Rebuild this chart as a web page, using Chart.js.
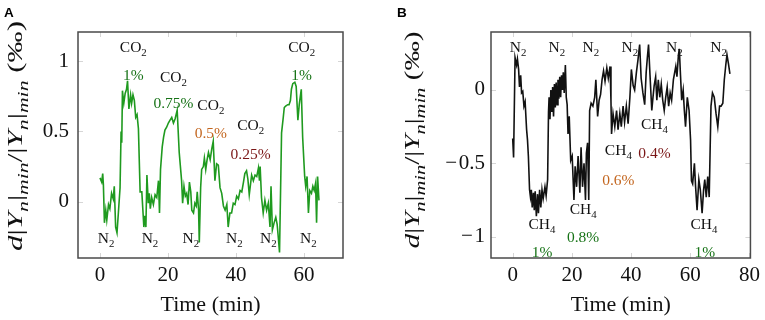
<!DOCTYPE html>
<html>
<head>
<meta charset="utf-8">
<script src="https://cdn.jsdelivr.net/npm/chart.js@4.4.1/dist/chart.umd.min.js"></script>
<style>
  html, body { margin: 0; padding: 0; background: #fff; }
  #wrap { position: relative; width: 765px; height: 320px; }
  .panel { position: absolute; top: 0; width: 382px; height: 320px; }
</style>
</head>
<body>
<div id="wrap">
  <div class="panel" style="left:0"><canvas id="chartA" width="382" height="320"></canvas></div>
  <div class="panel" style="left:383px"><canvas id="chartB" width="382" height="320"></canvas></div>
</div>
<script>
// ---- panel A : CO2 pulses (green trace) ----
const timeA = [
  0, 0.5, 0.8, 1.0, 1.3, 1.7, 2.0, 2.5, 2.9, 3.4,
  3.9, 4.2, 4.6, 5.0, 5.4, 5.9, 6.2, 6.4, 6.6, 7.0,
  7.4, 7.8, 8.1, 8.5, 9.0, 9.3, 9.7, 10.1, 10.5, 10.9,
  11.3, 11.8, 12.3, 12.9, 13.2, 13.5, 13.8, 14.2, 14.5, 14.8,
  15.2, 15.7, 16.2, 16.7, 17.2, 17.5, 17.8, 18.3, 18.7, 19.1,
  19.6, 20.1, 20.6, 21.1, 21.6, 22.1, 22.7, 23.3, 24.0, 24.3,
  24.7, 25.1, 25.5, 25.9, 26.3, 26.7, 27.0, 27.5, 27.9, 28.3,
  28.6, 29.0, 29.2, 29.6, 29.9, 30.4, 30.7, 31.1, 31.5, 31.9,
  32.4, 32.9, 33.3, 33.8, 34.3, 34.8, 35.3, 35.8, 36.3, 36.8,
  37.3, 37.7, 38.2, 38.7, 39.2, 39.7, 40.2, 40.7, 41.2, 41.7,
  42.2, 42.6, 43.1, 43.5, 43.9, 44.6, 45.1, 45.6, 46.1, 46.6,
  46.9, 47.1, 47.5, 48.0, 48.5, 49.0, 49.5, 50.0, 50.3, 50.7,
  51.2, 51.7, 52.1, 52.5, 52.8, 53.4, 53.9, 54.2, 54.6, 55.2,
  55.6, 56.0, 56.3, 56.7, 57.3, 57.7, 58.2, 58.6, 59.2, 59.6,
  60.2, 60.5, 60.9, 61.3, 61.7, 62.2, 62.6, 63.0, 63.4, 63.7,
  64.0, 64.4
];
const valuesA = [
  0.17, 0.14, 0.20, 0.12, -0.15, -0.06, -0.13, -0.02, -0.05, 0.06,
  0.02, 0.11, -0.18, -0.22, -0.08, 0.10, 0.50, 0.42, 0.79, 0.70,
  0.77, 0.80, 0.86, 0.66, 0.76, 0.70, 0.76, 0.72, 0.60, 0.62,
  0.52, 0.07, 0.07, -0.18, -0.10, -0.18, 0.19, -0.01, 0.06, -0.05,
  0.03, -0.02, 0.05, 0.03, 0.15, -0.08, 0.23, 0.39, 0.46, 0.51,
  0.53, 0.56, 0.58, 0.60, 0.56, 0.59, 0.65, 0.35, 0.15, -0.01,
  0.11, 0.04, 0.06, -0.02, 0.14, 0.07, -0.06, -0.08, -0.01, -0.03,
  0.07, -0.06, -0.29, 0.10, 0.23, 0.25, 0.31, 0.23, 0.30, 0.35,
  0.30, 0.38, 0.43, 0.15, 0.27, 0.26, 0.10, 0.06, -0.03, -0.06,
  -0.02, -0.18, -0.08, -0.08, -0.01, -0.02, 0.04, 0.02, 0.08, 0.07,
  0.14, 0.20, 0.22, 0.16, 0.05, 0.19, 0.15, 0.19, 0.18, 0.24,
  0.15, 0.25, 0.03, -0.08, 0.01, -0.06, -0.01, -0.18, 0.11, -0.20,
  -0.15, -0.11, -0.16, -0.27, -0.36, 0.49, 0.60, 0.67, 0.68, 0.69,
  0.69, 0.72, 0.80, 0.84, 0.85, 0.82, 0.58, 0.69, 0.80, 0.46,
  0.18, 0.11, 0.18, -0.08, 0.08, 0.06, 0.11, 0.08, 0.13, -0.15,
  0.18, 0.01
];
const xTicksA = [0, 20, 40, 60];
const yTicksA = [0, 0.5, 1];

// ---- panel B : CH4 pulses (black trace) ----
const timeB = [
  0.0, 0.3, 0.8, 1.3, 1.6, 2.0, 2.3, 2.7, 3.0, 3.4,
  3.8, 4.2, 4.7, 5.0, 5.3, 5.7, 6.0, 6.3, 6.6, 7.0,
  7.3, 7.6, 8.0, 8.4, 8.7, 9.1, 9.5, 9.9, 10.3, 10.9,
  11.3, 11.8, 12.1, 12.3, 12.6, 12.9, 13.2, 13.5, 13.8, 14.1,
  14.4, 14.7, 15.0, 15.3, 15.6, 15.9, 16.2, 16.5, 16.8, 17.1,
  17.4, 17.8, 18.1, 18.4, 18.7, 19.1, 19.6, 20.1, 20.7, 21.1,
  21.6, 22.1, 22.7, 23.1, 23.6, 24.1, 24.6, 24.9, 25.3, 25.7,
  26.0, 26.5, 27.1, 27.7, 28.1, 28.7, 29.2, 29.7, 30.2, 30.7,
  31.2, 31.8, 32.3, 32.9, 33.2, 33.4, 33.9, 34.5, 35.1, 35.6,
  36.2, 36.7, 37.3, 37.8, 38.4, 39.0, 39.6, 40.1, 40.7, 41.2,
  41.8, 42.3, 42.9, 43.4, 44.0, 44.6, 45.1, 45.5, 45.9, 46.4,
  47.0, 47.4, 47.8, 48.3, 48.7, 49.2, 49.7, 50.2, 50.7, 51.2,
  51.7, 52.2, 52.7, 53.2, 53.7, 54.3, 55.1, 55.5, 56.0, 56.3,
  56.7, 57.1, 57.6, 58.0, 58.4, 59.0, 59.6, 60.1, 60.4, 60.8,
  61.4, 61.8, 62.3, 62.9, 63.4, 64.0, 64.5, 64.9, 65.4, 65.9,
  66.4, 67.0, 67.5, 68.1, 68.7, 69.3, 69.9, 70.4, 71.0, 71.5,
  72.0, 72.4, 72.9, 73.4
];
const valuesB = [
  -0.33, -0.46, 0.22, 0.17, 0.21, 0.14, 0.02, 0.10, -0.02, -0.01,
  -0.11, -0.08, -0.27, -0.34, -0.45, -0.68, -0.73, -0.68, -0.80, -0.70,
  -0.82, -0.69, -0.86, -0.71, -0.84, -0.68, -0.80, -0.68, -0.74, -0.66,
  -0.72, -0.61, -0.15, -0.05, -0.20, 0.00, -0.15, 0.02, -0.18, 0.04,
  -0.12, 0.05, -0.10, 0.07, -0.06, 0.09, -0.05, 0.10, 0.00, 0.12,
  -0.02, 0.17, -0.05, -0.10, -0.30, -0.18, -0.48, -0.45, -0.75, -0.52,
  -0.66, -0.45, -0.70, -0.39, -0.66, -0.50, -0.75, -0.43, -0.36, -0.75,
  -0.14, -0.09, -0.11, -0.05, 0.07, -0.18, -0.07, -0.03, 0.07, 0.13,
  0.06, 0.15, 0.08, 0.16, -0.07, -0.30, -0.16, -0.25, -0.14, -0.27,
  -0.16, -0.25, -0.11, -0.22, -0.11, -0.23, -0.05, 0.14, 0.03, 0.00,
  0.12, 0.20, 0.31, 0.08, -0.02, -0.10, 0.12, 0.22, 0.31, 0.10,
  -0.14, -0.05, 0.03, 0.09, -0.07, 0.07, -0.05, 0.04, -0.07, -0.14,
  -0.05, 0.02, -0.11, -0.02, -0.07, 0.07, 0.16, 0.09, 0.24, 0.28,
  0.10, -0.07, 0.00, -0.14, -0.25, -0.05, -0.14, -0.34, -0.62, -0.64,
  -0.50, -0.66, -0.82, -0.61, -0.68, -0.84, -0.68, -0.61, -0.73, -0.59,
  -0.73, -0.11, -0.02, -0.05, -0.16, -0.25, -0.11, -0.11, -0.09, 0.07,
  0.17, 0.24, 0.18, 0.11
];
const xTicksB = [0, 20, 40, 60, 80];
const yTicksB = [-1, -0.5, 0];

// gas labels: text (_ = subscript), time, value, ink
const notesA = [
  ['CO_2', 9.8, 1.10, 'k'], ['1%', 9.8, 0.90, 'g'],
  ['CO_2', 21.6, 0.89, 'k'], ['0.75%', 21.6, 0.70, 'g'],
  ['CO_2', 32.6, 0.69, 'k'], ['0.5%', 32.6, 0.49, 'o'],
  ['CO_2', 44.3, 0.545, 'k'], ['0.25%', 44.3, 0.34, 'r'],
  ['CO_2', 59.3, 1.10, 'k'], ['1%', 59.3, 0.90, 'g'],
  ['N_2', 1.8, -0.26, 'k'], ['N_2', 14.7, -0.26, 'k'], ['N_2', 26.7, -0.26, 'k'],
  ['N_2', 39.5, -0.26, 'k'], ['N_2', 49.5, -0.26, 'k'], ['N_2', 61.3, -0.26, 'k']
];
const notesB = [
  ['N_2', 1.8, 0.295, 'k'], ['N_2', 14.9, 0.295, 'k'], ['N_2', 26.4, 0.295, 'k'],
  ['N_2', 39.6, 0.295, 'k'], ['N_2', 54.6, 0.295, 'k'], ['N_2', 69.6, 0.295, 'k'],
  ['CH_4', 9.9, -0.91, 'k'], ['1%', 9.9, -1.10, 'g'],
  ['CH_4', 23.8, -0.81, 'k'], ['0.8%', 23.8, -1.00, 'g'],
  ['CH_4', 35.7, -0.41, 'k'], ['0.6%', 35.7, -0.61, 'o'],
  ['CH_4', 47.9, -0.23, 'k'], ['0.4%', 47.9, -0.43, 'r'],
  ['CH_4', 64.6, -0.91, 'k'], ['1%', 64.9, -1.10, 'g']
];

const SERIF = "'Liberation Serif', 'DejaVu Serif', serif";
const INK = { k: '#111111', g: '#177317', o: '#c3661f', r: '#7a1616' };

// y title: d|Y_n|_min / |Y_n|_min (‰)
const yTitleParts = [
  { t: 'd', it: true }, { t: '|' }, { t: 'Y', it: true }, { t: 'n', it: true, sub: true },
  { t: '|' }, { t: 'min', it: true, sub: true }, { t: '/' }, { t: '|' },
  { t: 'Y', it: true }, { t: 'n', it: true, sub: true }, { t: '|' },
  { t: 'min', it: true, sub: true }, { t: ' (‰)' }
];

function parseLabel(s) {
  const out = [];
  s.split(/(_.)/).forEach(p => {
    if (!p) return;
    if (p[0] === '_') out.push({ t: p.slice(1), sub: true });
    else out.push({ t: p });
  });
  return out;
}

// draws parts centred on x with the main baseline at y
function drawRich(ctx, parts, x, y, size) {
  ctx.textAlign = 'left';
  ctx.textBaseline = 'alphabetic';
  const fonts = parts.map(p => (p.it ? 'italic ' : '') + (p.sub ? size * 0.7 : size) + 'px ' + SERIF);
  const w = parts.map((p, i) => { ctx.font = fonts[i]; return ctx.measureText(p.t).width; });
  let cx = x - w.reduce((a, b) => a + b, 0) / 2;
  parts.forEach((p, i) => {
    ctx.font = fonts[i];
    ctx.fillText(p.t, cx, y + (p.sub ? size * 0.25 : 0));
    cx += w[i];
  });
}

function richWidth(ctx, parts, size) {
  return parts.reduce((s, p) => {
    ctx.font = (p.it ? 'italic ' : '') + (p.sub ? size * 0.7 : size) + 'px ' + SERIF;
    return s + ctx.measureText(p.t).width;
  }, 0);
}

function makeFrame(cfg) {
  return {
    id: 'frame' + cfg.letter,
    beforeDatasetsDraw(chart) {
      const { ctx, chartArea: a, scales: { x, y } } = chart;
      ctx.save();
      ctx.strokeStyle = '#d6d6d6';
      ctx.lineWidth = 1;
      ctx.beginPath();
      x.ticks.forEach(t => {
        const px = Math.round(x.getPixelForValue(t.value)) + 0.5;
        ctx.moveTo(px, a.top); ctx.lineTo(px, a.top + 5);
        ctx.moveTo(px, a.bottom); ctx.lineTo(px, a.bottom - 5);
      });
      y.ticks.forEach(t => {
        const py = Math.round(y.getPixelForValue(t.value)) + 0.5;
        ctx.moveTo(a.left, py); ctx.lineTo(a.left + 5, py);
        ctx.moveTo(a.right, py); ctx.lineTo(a.right - 5, py);
      });
      ctx.stroke();
      ctx.restore();
    },
    afterDatasetsDraw(chart) {
      const { ctx, chartArea: a, scales: { x, y } } = chart;
      ctx.save();
      // gas / concentration labels
      const size = 15.5;
      cfg.notes.forEach(([txt, t, v, ink]) => {
        ctx.fillStyle = INK[ink];
        drawRich(ctx, parseLabel(txt), x.getPixelForValue(t), y.getPixelForValue(v) + size * 0.33, size);
      });
      // frame
      ctx.strokeStyle = '#4a4a4a';
      ctx.lineWidth = 1.5;
      ctx.strokeRect(a.left, a.top, a.right - a.left, a.bottom - a.top);
      // y-axis title, rotated and stretched a little like the original
      const ts = 22;
      const stretch = cfg.titleLen / richWidth(ctx, yTitleParts, ts);
      ctx.save();
      ctx.translate(cfg.titleX, cfg.titleY);
      ctx.rotate(-Math.PI / 2);
      ctx.scale(stretch, 1);
      ctx.fillStyle = '#111';
      drawRich(ctx, yTitleParts, 0, 0, ts);
      ctx.restore();
      // panel letter
      ctx.fillStyle = '#000';
      ctx.font = 'bold 13.5px "Liberation Sans", Arial, sans-serif';
      ctx.textAlign = 'left';
      ctx.textBaseline = 'alphabetic';
      ctx.fillText(cfg.letter, cfg.letterX, 17);
      ctx.restore();
    }
  };
}

const fmt = v => (v < 0 ? '\u2212\u200A' + Math.abs(v) : String(v));

function buildChart(id, times, values, color, box) {
  const pts = times.map((t, i) => ({ x: t, y: values[i] }));
  return new Chart(document.getElementById(id), {
    type: 'line',
    data: {
      datasets: [{
        data: pts,
        borderColor: color,
        borderWidth: 1.6,
        pointRadius: 0,
        tension: 0,
        fill: false
      }]
    },
    options: {
      responsive: false,
      animation: false,
      devicePixelRatio: 1,
      layout: { padding: { top: 32, right: box.padRight, left: 0, bottom: 0 } },
      plugins: { legend: { display: false }, tooltip: { enabled: false } },
      scales: {
        x: {
          type: 'linear',
          min: box.xMin, max: box.xMax,
          afterBuildTicks: s => { s.ticks = box.xTicks.map(v => ({ value: v })); },
          afterFit: s => { s.height = 62; },
          grid: { display: false, drawTicks: false },
          border: { display: false },
          ticks: { color: '#111', padding: 5, font: { family: SERIF, size: 21 }, callback: fmt, maxRotation: 0 },
          title: { display: true, text: 'Time (min)', color: '#111', font: { family: SERIF, size: 22 }, padding: { top: 0, bottom: 2 } }
        },
        y: {
          min: box.yMin, max: box.yMax,
          afterBuildTicks: s => { s.ticks = box.yTicks.map(v => ({ value: v })); },
          afterFit: s => { s.width = box.yWidth; },
          grid: { display: false, drawTicks: false },
          border: { display: false },
          ticks: { color: '#111', padding: box.yPad, font: { family: SERIF, size: 21 }, callback: fmt }
        }
      }
    },
    plugins: [makeFrame(box)]
  });
}

buildChart('chartA', timeA, valuesA, '#1f9a1f', {
  letter: 'A', letterX: 4, notes: notesA,
  xMin: -6.47, xMax: 71.47, yMin: -0.40, yMax: 1.207,
  xTicks: xTicksA, yTicks: yTicksA,
  padRight: 39, yWidth: 78, yPad: 9,
  titleX: 22, titleY: 136, titleLen: 230
});

buildChart('chartB', timeB, valuesB, '#111111', {
  letter: 'B', letterX: 14, notes: notesB,
  xMin: -7.33, xMax: 80.33, yMin: -1.145, yMax: 0.395,
  xTicks: xTicksB, yTicks: yTicksB,
  padRight: 11, yWidth: 108, yPad: 6,
  titleX: 36, titleY: 140, titleLen: 217
});
</script>
</body>
</html>
